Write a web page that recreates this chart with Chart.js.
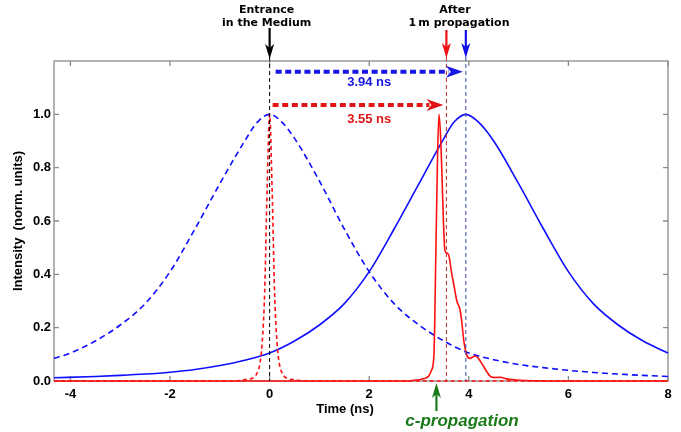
<!DOCTYPE html>
<html>
<head>
<meta charset="utf-8">
<script src="https://cdn.jsdelivr.net/npm/chart.js@4.4.1/dist/chart.umd.min.js"></script>
<style>
  html, body { margin: 0; padding: 0; background: #fff; }
  canvas { display: block; }
</style>
</head>
<body>
<canvas id="pulseChart" width="681" height="432"></canvas>
<script>
// ticks
const timeTicks = [-4, -2, 0, 2, 4, 6, 8];
const intensityTicks = [0, 0.2, 0.4, 0.6, 0.8, 1.0];

// broad pulse at the entrance (blue dashed)
const wideInT = [-4.33, -4, -3.5, -3, -2.5, -2, -1.5, -1, -0.5, -0.25, 0, 0.25, 0.5, 1, 1.5, 2, 2.5, 3, 3.5, 4, 4.5, 5, 5.5, 6, 6.5, 7, 7.5, 8];
const wideInI = [0.085, 0.105, 0.15, 0.21, 0.29, 0.41, 0.57, 0.74, 0.9, 0.97, 1.0, 0.97, 0.91, 0.75, 0.57, 0.41, 0.29, 0.21, 0.15, 0.105, 0.08, 0.062, 0.05, 0.04, 0.032, 0.026, 0.021, 0.017];

// broad pulse after 1 m (blue solid)
const wideOutT = [-4.33, -3.5, -3, -2.5, -2, -1.5, -1, -0.5, 0, 0.5, 1, 1.5, 2, 2.5, 3, 3.5, 3.7, 3.94, 4.2, 4.5, 5, 5.5, 6, 6.5, 7, 7.5, 8];
const wideOutI = [0.012, 0.017, 0.021, 0.026, 0.033, 0.043, 0.058, 0.078, 0.105, 0.15, 0.21, 0.29, 0.41, 0.57, 0.74, 0.91, 0.97, 1.0, 0.97, 0.9, 0.74, 0.57, 0.41, 0.29, 0.21, 0.15, 0.105];

// narrow pulse at the entrance (red dashed)
const narrowInT = [-4.33, -0.7, -0.5, -0.35, -0.25, -0.2, -0.15, -0.1, -0.05, 0, 0.05, 0.1, 0.15, 0.2, 0.25, 0.35, 0.5, 0.7, 8];
const narrowInI = [0, 0, 0.005, 0.01, 0.03, 0.06, 0.14, 0.33, 0.72, 1.0, 0.72, 0.33, 0.14, 0.06, 0.03, 0.01, 0.005, 0, 0];

// narrow pulse after 1 m (red solid)
const narrowOutT = [-4.33, 2.8, 2.9, 3.0, 3.1, 3.2, 3.25, 3.3, 3.34, 3.37, 3.4, 3.43, 3.46, 3.49, 3.52, 3.56, 3.6, 3.65, 3.7, 3.76, 3.82, 3.86, 3.9, 3.96, 4.02, 4.08, 4.13, 4.2, 4.28, 4.36, 4.45, 4.55, 4.63, 4.75, 4.95, 5.3, 6, 8];
const narrowOutI = [0, 0, 0.003, 0.005, 0.009, 0.02, 0.04, 0.1, 0.5, 0.82, 1.0, 0.93, 0.78, 0.6, 0.49, 0.48, 0.47, 0.41, 0.36, 0.3, 0.27, 0.22, 0.15, 0.097, 0.085, 0.09, 0.094, 0.083, 0.06, 0.035, 0.015, 0.013, 0.014, 0.008, 0.004, 0.001, 0, 0];

// annotation values (ns / norm. units)
const entranceT = 0;
const cPropT = 3.35;
const redDelay = 3.55;
const blueDelay = 3.94;
const blueArrowY = 1.16;
const redArrowY = 1.035;

const toPoints = (ts, is) => ts.map((t, i) => ({ x: t, y: is[i] }));

const BLUE = '#0f0fff';
const RED = '#ff0f0f';
const TICK_FONT = 'bold 13px "Liberation Sans", Arial, sans-serif';

function arrowDown(ctx, x, y0, y1, color) {
  ctx.strokeStyle = color;
  ctx.fillStyle = color;
  ctx.lineWidth = 2.2;
  ctx.beginPath();
  ctx.moveTo(x, y0);
  ctx.lineTo(x, y1 - 10);
  ctx.stroke();
  ctx.beginPath();
  ctx.moveTo(x, y1);
  ctx.lineTo(x - 4.5, y1 - 15);
  ctx.lineTo(x, y1 - 11);
  ctx.lineTo(x + 4.5, y1 - 15);
  ctx.closePath();
  ctx.fill();
}

function dottedArrow(ctx, x0, tip, y, color) {
  ctx.strokeStyle = color;
  ctx.fillStyle = color;
  ctx.lineWidth = 4;
  ctx.setLineDash([6, 3.6]);
  ctx.beginPath();
  ctx.moveTo(x0, y);
  ctx.lineTo(tip - 14, y);
  ctx.stroke();
  ctx.setLineDash([]);
  ctx.beginPath();
  ctx.moveTo(tip, y);
  ctx.lineTo(tip - 17, y - 6);
  ctx.lineTo(tip - 12, y);
  ctx.lineTo(tip - 17, y + 6);
  ctx.closePath();
  ctx.fill();
}

const framePlugin = {
  id: 'frame',
  beforeDatasetsDraw(chart) {
    const { ctx, chartArea: a, scales: { x, y } } = chart;
    ctx.save();
    ctx.strokeStyle = '#8a8a8a';
    ctx.lineWidth = 1.3;
    ctx.strokeRect(a.left, a.top, a.width, a.height);
    ctx.beginPath();
    timeTicks.forEach(v => {
      const px = x.getPixelForValue(v);
      ctx.moveTo(px, a.bottom); ctx.lineTo(px, a.bottom - 5);
      ctx.moveTo(px, a.top); ctx.lineTo(px, a.top + 5);
    });
    intensityTicks.forEach(v => {
      const py = y.getPixelForValue(v);
      ctx.moveTo(a.left, py); ctx.lineTo(a.left + 5, py);
      ctx.moveTo(a.right, py); ctx.lineTo(a.right - 5, py);
    });
    ctx.stroke();
    ctx.restore();
  },
  afterDatasetsDraw(chart) {
    const { ctx, chartArea: a, scales: { x, y } } = chart;
    ctx.save();

    // vertical markers
    ctx.lineWidth = 1;
    ctx.setLineDash([4, 3]);
    [[entranceT, '#000000'], [redDelay, '#b82828'], [blueDelay, '#3848a8']].forEach(([t, c]) => {
      const px = x.getPixelForValue(t);
      ctx.strokeStyle = c;
      ctx.beginPath();
      ctx.moveTo(px, a.top - 4);
      ctx.lineTo(px, a.bottom);
      ctx.stroke();
    });
    ctx.setLineDash([]);

    // delay arrows
    const bx = x.getPixelForValue(blueDelay);
    const rx = x.getPixelForValue(redDelay);
    const ex = x.getPixelForValue(entranceT);
    dottedArrow(ctx, ex + 6, bx - 3, y.getPixelForValue(blueArrowY), '#1616e6');
    dottedArrow(ctx, ex + 3, rx - 3, y.getPixelForValue(redArrowY), '#e01414');

    ctx.font = TICK_FONT;
    ctx.textAlign = 'center';
    ctx.textBaseline = 'middle';
    ctx.fillStyle = '#1616e6';
    ctx.fillText('3.94 ns', x.getPixelForValue(2.0), y.getPixelForValue(1.12));
    ctx.fillStyle = '#e01414';
    ctx.fillText('3.55 ns', x.getPixelForValue(2.0), y.getPixelForValue(0.982));

    // top labels and arrows
    arrowDown(ctx, ex, a.top - 33, a.top - 2, '#000');
    arrowDown(ctx, rx, a.top - 31, a.top - 3, '#f01010');
    arrowDown(ctx, bx, a.top - 31, a.top - 3, '#1010e8');

    ctx.fillStyle = '#000';
    ctx.font = 'bold 11px "DejaVu Sans", sans-serif';
    ctx.fillText('Entrance', ex - 3, 10);
    ctx.fillText('in the Medium', ex - 3, 23);
    ctx.fillText('After', 455, 10);
    ctx.fillText('1\u2009m propagation', 459, 23);

    // x title
    ctx.font = TICK_FONT;
    ctx.fillText('Time (ns)', 345, 409);

    // c-propagation
    const cx = x.getPixelForValue(cPropT);
    ctx.strokeStyle = '#1a7a1a';
    ctx.fillStyle = '#1a7a1a';
    ctx.lineWidth = 2.2;
    ctx.beginPath();
    ctx.moveTo(cx, a.bottom + 30);
    ctx.lineTo(cx, a.bottom + 12);
    ctx.stroke();
    ctx.beginPath();
    ctx.moveTo(cx, a.bottom + 2);
    ctx.lineTo(cx - 4.5, a.bottom + 17);
    ctx.lineTo(cx, a.bottom + 13);
    ctx.lineTo(cx + 4.5, a.bottom + 17);
    ctx.closePath();
    ctx.fill();
    ctx.font = 'italic bold 17px "Liberation Sans", Arial, sans-serif';
    ctx.fillText('c-propagation', 462, 421);

    ctx.restore();
  }
};

const ctx = document.getElementById('pulseChart').getContext('2d');

new Chart(ctx, {
  type: 'line',
  data: {
    datasets: [
      {
        label: 'output narrow',
        data: toPoints(narrowOutT, narrowOutI),
        borderColor: RED,
        borderWidth: 1.6,
        cubicInterpolationMode: 'monotone'
      },
      {
        label: 'input narrow',
        data: toPoints(narrowInT, narrowInI),
        borderColor: RED,
        borderWidth: 1.6,
        borderDash: [4, 3],
        cubicInterpolationMode: 'monotone'
      },
      {
        label: 'output wide',
        data: toPoints(wideOutT, wideOutI),
        borderColor: BLUE,
        borderWidth: 1.6,
        cubicInterpolationMode: 'monotone'
      },
      {
        label: 'input wide',
        data: toPoints(wideInT, wideInI),
        borderColor: BLUE,
        borderWidth: 1.6,
        borderDash: [6, 4],
        cubicInterpolationMode: 'monotone'
      }
    ]
  },
  options: {
    responsive: false,
    animation: false,
    clip: false,
    layout: { padding: { left: 0, top: 61, right: 13, bottom: 0 } },
    elements: { point: { radius: 0 } },
    plugins: {
      legend: { display: false },
      tooltip: { enabled: false }
    },
    scales: {
      x: {
        type: 'linear',
        min: -4.33,
        max: 8,
        afterBuildTicks: s => { s.ticks = timeTicks.map(v => ({ value: v })); },
        afterFit: s => { s.height = 51; },
        grid: { display: false, drawTicks: false },
        border: { display: false },
        ticks: {
          padding: 6,
          maxRotation: 0,
          color: '#000',
          font: { family: '"Liberation Sans", Arial, sans-serif', size: 13, weight: 'bold' }
        }
      },
      y: {
        min: 0,
        max: 1.2,
        afterBuildTicks: s => { s.ticks = intensityTicks.map(v => ({ value: v })); },
        afterFit: s => { s.width = 54; },
        grid: { display: false, drawTicks: false },
        border: { display: false },
        ticks: {
          padding: 3,
          color: '#000',
          font: { family: '"Liberation Sans", Arial, sans-serif', size: 13, weight: 'bold' },
          callback: v => v.toFixed(1)
        },
        title: {
          display: true,
          text: 'Intensity  (norm. units)',
          color: '#000',
          padding: { top: 11, bottom: 0 },
          font: { family: '"Liberation Sans", Arial, sans-serif', size: 13, weight: 'bold' }
        }
      }
    }
  },
  plugins: [framePlugin]
});
</script>
</body>
</html>
